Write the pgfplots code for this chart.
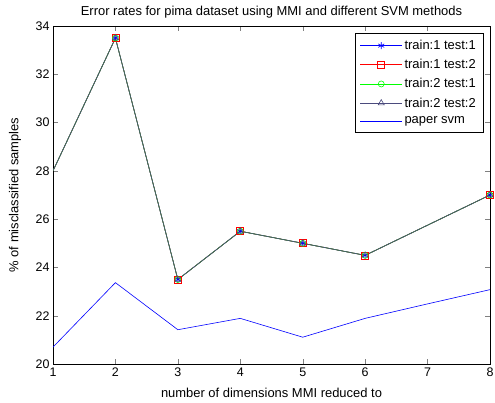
\documentclass[border=0pt]{standalone}
\usepackage{pgfplots}
\pgfplotsset{compat=1.18}
\usepackage{fontspec}
\setmainfont{Liberation Sans}
\definecolor{navy}{RGB}{75,75,125}

\begin{document}
\begin{tikzpicture}
\begin{axis}[
    width=437bp, height=338bp,
    scale only axis,
    title={Error rates for pima dataset using MMI and different SVM methods},
    title style={font=\fontsize{13}{14}\selectfont, at={(axis description cs:0.5,1.006)}, anchor=south, inner sep=0pt},
    xlabel={number of dimensions MMI reduced to},
    ylabel={\% of misclassified samples},
    label style={font=\fontsize{13}{14}\selectfont},
    xlabel style={at={(axis description cs:0.5,-0.086)}, anchor=center},
    ylabel style={at={(axis description cs:-0.087,0.5)}, anchor=center},
    tick label style={font=\fontsize{12.5}{13}\selectfont},
    /pgf/number format/assume math mode=true,
    xmin=1, xmax=8,
    ymin=20, ymax=34,
    xtick={1,2,3,4,5,6,7,8},
    ytick={20,22,24,26,28,30,32,34},
    tick align=inside,
    major tick length=5bp,
    axis line style={black},
    every axis plot/.append style={line width=0.6bp},
    legend style={font=\fontsize{13}{14}\selectfont, at={(rel axis cs:1,1)}, xshift=-7bp, yshift=-7bp, anchor=north east, row sep=4.3bp, inner sep=5bp},
    legend cell align=left,
    legend image code/.code={\draw[mark repeat=2, mark phase=2] plot coordinates {(0bp,0bp)(21bp,0bp)(42bp,0bp)};},
]
\addplot[color=blue, mark=asterisk, mark size=3.5bp, mark indices={2,3,4,5,6,7}, legend image post style={mark indices={2}}]
coordinates {(1,28)(2,33.5)(3,23.5)(4,25.5)(5,25)(6,24.5)(8,27)};
\addlegendentry{train:1 test:1}

\addplot[color=red, mark=square, mark size=3.5bp, mark indices={2,3,4,5,6,7}, legend image post style={mark indices={2}}]
coordinates {(1,28)(2,33.5)(3,23.5)(4,25.5)(5,25)(6,24.5)(8,27)};
\addlegendentry{train:1 test:2}

\addplot[color=green, mark=o, mark size=3bp, mark indices={2,3,4,5,6,7}, legend image post style={mark indices={2}}]
coordinates {(1,28)(2,33.5)(3,23.5)(4,25.5)(5,25)(6,24.5)(8,27)};
\addlegendentry{train:2 test:1}

\addplot[color=navy, mark=triangle, mark size=3.5bp, mark indices={2,3,4,5,6,7}, legend image post style={mark indices={2}}]
coordinates {(1,28)(2,33.5)(3,23.5)(4,25.5)(5,25)(6,24.5)(8,27)};
\addlegendentry{train:2 test:2}

\addplot[color=blue, forget plot]
coordinates {(1,20.7)(2,23.37)(3,21.42)(4,21.89)(5,21.11)(6,21.89)(7,22.49)(8,23.08)};
\addlegendimage{color=blue, mark=none, line width=0.6bp}
\addlegendentry{paper svm}
\end{axis}
\pgfresetboundingbox
\path[use as bounding box] (-53bp,-39bp) rectangle (442bp,364bp);
\end{tikzpicture}
\end{document}
